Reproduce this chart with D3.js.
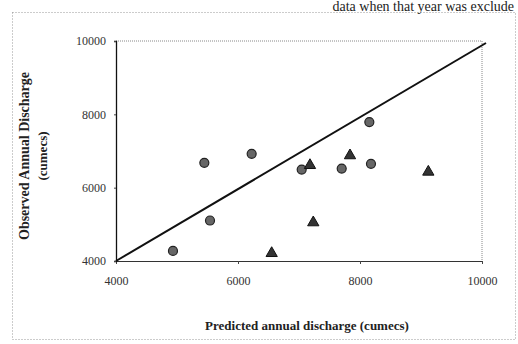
<!DOCTYPE html>
<html>
<head>
<meta charset="utf-8">
<script src="https://cdn.jsdelivr.net/npm/d3@7"></script>
<style>
  body { margin: 0; background: #fff; }
  svg { display: block; }
</style>
</head>
<body>
<svg class="discharge" width="518" height="344"></svg>
<script>
// observed vs predicted annual discharge (cumecs)
const circlePredicted = [4934, 5448, 5541, 6224, 7044, 7700, 8153, 8180];
const circleObserved  = [4274, 6677, 5104, 6923, 6493, 6521, 7789, 6649];
const trianglePredicted = [6552, 7180, 7234, 7836, 9120];
const triangleObserved  = [4211, 6611, 5049, 6877, 6430];
const lineValues = [4000, 10000];
const tickValues = [4000, 6000, 8000, 10000];

const margin = {top: 41, right: 36, bottom: 83, left: 116},
    width = 518 - margin.left - margin.right,
    height = 344 - margin.top - margin.bottom;

const root = d3.select(".discharge");
const font = "'Liberation Serif', 'Times New Roman', serif";

// dotted frame around the whole figure
root.append("rect")
    .attr("x", 12.5).attr("y", 12.5)
    .attr("width", 503).attr("height", 327)
    .attr("fill", "none")
    .attr("stroke", "#999")
    .attr("stroke-dasharray", "1,2");

// line of text from the page above
root.append("text")
    .attr("x", 514)
    .attr("y", 11)
    .attr("text-anchor", "end")
    .style("font-family", font)
    .style("font-size", "14px")
    .style("fill", "#222")
    .text("data when that year was exclude");

const svg = root.append("g")
    .attr("transform", `translate(${margin.left},${margin.top})`);

const x = d3.scaleLinear().domain([4000, 10000]).range([0, width]);
const y = d3.scaleLinear().domain([4000, 10000]).range([height, 0]);

// plot area border (top/right dotted)
svg.append("path")
    .attr("d", `M0,0H${width}V${height}`)
    .attr("fill", "none")
    .attr("stroke", "#888")
    .attr("stroke-dasharray", "1,1");

// X axis
const xAxis = svg.append("g")
    .attr("transform", `translate(0,${height})`)
    .call(d3.axisBottom(x).tickValues(tickValues).tickFormat(d3.format("d"))
        .tickSize(3).tickPadding(12));
xAxis.select(".domain").attr("stroke", "#333");

// Y axis
const yAxis = svg.append("g")
    .call(d3.axisLeft(y).tickValues(tickValues).tickFormat(d3.format("d"))
        .tickSize(2).tickPadding(8));
yAxis.select(".domain").attr("stroke", "#111").attr("stroke-width", 1.3);

svg.selectAll(".tick text")
    .style("font-family", font)
    .style("font-size", "12px")
    .style("fill", "#333");
svg.selectAll(".tick line").attr("stroke", "#444");

// 1:1 line
svg.append("line")
    .attr("x1", x(lineValues[0])).attr("y1", y(lineValues[0]))
    .attr("x2", x(lineValues[1]) + 4).attr("y2", y(lineValues[1]) + 2)
    .attr("stroke", "#111")
    .attr("stroke-width", 2);

// circles
svg.selectAll(".dot")
    .data(circlePredicted)
    .enter().append("circle")
    .attr("class", "dot")
    .attr("cx", d => x(d))
    .attr("cy", (d, i) => y(circleObserved[i]))
    .attr("r", 4.5)
    .attr("fill", "#666")
    .attr("stroke", "#222")
    .attr("stroke-width", 1.2);

// triangles
svg.selectAll(".tri")
    .data(trianglePredicted)
    .enter().append("path")
    .attr("class", "tri")
    .attr("d", d3.symbol().type(d3.symbolTriangle).size(55))
    .attr("transform", (d, i) => `translate(${x(d)},${y(triangleObserved[i])})`)
    .attr("fill", "#333")
    .attr("stroke", "#111")
    .attr("stroke-width", 1);

// axis titles
svg.append("text")
    .attr("x", width / 2 + 8)
    .attr("y", height + 69)
    .attr("text-anchor", "middle")
    .style("font-family", font)
    .style("font-size", "13px")
    .style("font-weight", "bold")
    .style("fill", "#222")
    .text("Predicted annual discharge (cumecs)");

svg.append("text")
    .attr("transform", "rotate(-90)")
    .attr("x", -115)
    .attr("y", -87)
    .attr("text-anchor", "middle")
    .style("font-family", font)
    .style("font-size", "14px")
    .style("font-weight", "bold")
    .style("fill", "#222")
    .text("Observed Annual Discharge");

svg.append("text")
    .attr("transform", "rotate(-90)")
    .attr("x", -115)
    .attr("y", -69)
    .attr("text-anchor", "middle")
    .style("font-family", font)
    .style("font-size", "13px")
    .style("font-weight", "bold")
    .style("fill", "#222")
    .text("(cumecs)");
</script>
</body>
</html>
